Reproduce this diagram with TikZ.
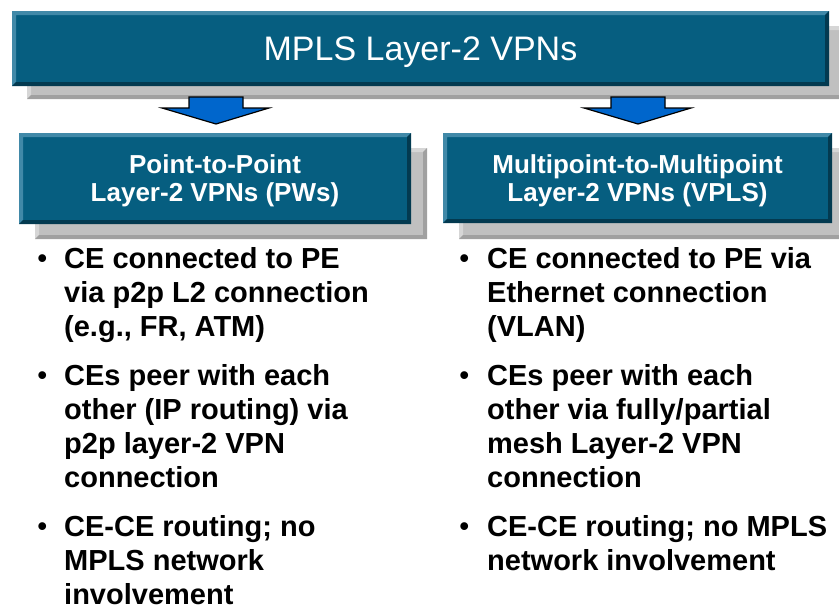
\documentclass[tikz,border=0pt]{standalone}
\usepackage{fontspec}
\setmainfont{Liberation Sans}
\definecolor{boxblue}{HTML}{065E80}
\definecolor{boxlight}{HTML}{4189A8}
\definecolor{boxdark}{HTML}{033A50}
\definecolor{shgray}{HTML}{C0C0C0}
\definecolor{shlight}{HTML}{D6D6D6}
\definecolor{shdark}{HTML}{A0A0A0}
\definecolor{arrblue}{HTML}{0066CC}
\newcommand\bevrect[7]{%
  \fill[#5] (#1,#2) rectangle (#3,#4);
  \fill[#6] (#1,#2) -- (#3,#2) -- ({#3-4},{#2+4}) -- ({#1+4},{#2+4}) -- ({#1+4},{#4-4}) -- (#1,#4) -- cycle;
  \fill[#7] (#3,#4) -- (#1,#4) -- ({#1+4},{#4-4}) -- ({#3-4},{#4-4}) -- ({#3-4},{#2+4}) -- (#3,#2) -- cycle;
}
\tikzset{
  titletext/.style={text=white, inner sep=0pt, anchor=base, font=\fontsize{34}{40}\selectfont},
  subtext/.style={text=white, inner sep=0pt, anchor=base, font=\bfseries\fontsize{26}{30}\selectfont},
  bultext/.style={text=black, inner sep=0pt, anchor=base west, font=\bfseries\fontsize{29}{34}\selectfont},
  bulmark/.style={text=black, inner sep=0pt, anchor=base west, font=\bfseries\fontsize{27}{30}\selectfont},
  blockarrow/.style={fill=arrblue, draw=black, line width=1.2pt, line join=miter}
}
\begin{document}
\begin{tikzpicture}[x=1pt, y=-1pt]
\useasboundingbox (0,0) rectangle (839,616);
\clip (0,0) rectangle (839,616);
% title box with shadow
\bevrect{27}{26}{846}{99}{shgray}{shlight}{shdark}
\bevrect{12}{11}{829}{86}{boxblue}{boxlight}{boxdark}
\node[titletext] (title) at (420.5,60) {MPLS Layer-2 VPNs};
% block arrows
\draw[blockarrow] (189,97) -- (243,97) -- (243,108) -- (269,108) -- (216,124) -- (162,108) -- (189,108) -- cycle;
\draw[blockarrow] (611,97) -- (665,97) -- (665,108) -- (691,108) -- (638,124) -- (584,108) -- (611,108) -- cycle;
% sub boxes with shadows
\bevrect{35}{148}{427}{239}{shgray}{shlight}{shdark}
\bevrect{19}{133}{411}{224}{boxblue}{boxlight}{boxdark}
\bevrect{459}{148}{850}{239}{shgray}{shlight}{shdark}
\bevrect{443}{133}{832}{223}{boxblue}{boxlight}{boxdark}
\node[subtext] (l1) at (215,173) {Point-to-Point};
\node[subtext] (l2) at (215,201) {Layer-2 VPNs (PWs)};
\node[subtext] (r1) at (637.5,173) {Multipoint-to-Multipoint};
\node[subtext] (r2) at (637.5,201) {Layer-2 VPNs (VPLS)};
% left bullets
\node[bulmark] (lb1) at (37.5,267.3) {•};
\node[bultext] (la1) at (64,268) {CE connected to PE};
\node[bultext] (la2) at (64,302) {via p2p L2 connection};
\node[bultext] (la3) at (64,336) {(e.g., FR, ATM)};
\node[bulmark] (lb2) at (37.5,384.3) {•};
\node[bultext] (lc1) at (64,385) {CEs peer with each};
\node[bultext] (lc2) at (64,419) {other (IP routing) via};
\node[bultext] (lc3) at (64,453) {p2p layer-2 VPN};
\node[bultext] (lc4) at (64,487) {connection};
\node[bulmark] (lb3) at (37.5,535.3) {•};
\node[bultext] (ld1) at (64,536) {CE-CE routing; no};
\node[bultext] (ld2) at (64,570) {MPLS network};
\node[bultext] (ld3) at (64,604) {involvement};
% right bullets
\node[bulmark] (rb1) at (459.5,267.3) {•};
\node[bultext] (ra1) at (487,268) {CE connected to PE via};
\node[bultext] (ra2) at (487,302) {Ethernet connection};
\node[bultext] (ra3) at (487,336) {(VLAN)};
\node[bulmark] (rb2) at (459.5,384.3) {•};
\node[bultext] (rc1) at (487,385) {CEs peer with each};
\node[bultext] (rc2) at (487,419) {other via fully/partial};
\node[bultext] (rc3) at (487,453) {mesh Layer-2 VPN};
\node[bultext] (rc4) at (487,487) {connection};
\node[bulmark] (rb3) at (459.5,535.3) {•};
\node[bultext] (rd1) at (487,536) {CE-CE routing; no MPLS};
\node[bultext] (rd2) at (487,570) {network involvement};
\end{tikzpicture}
\end{document}
